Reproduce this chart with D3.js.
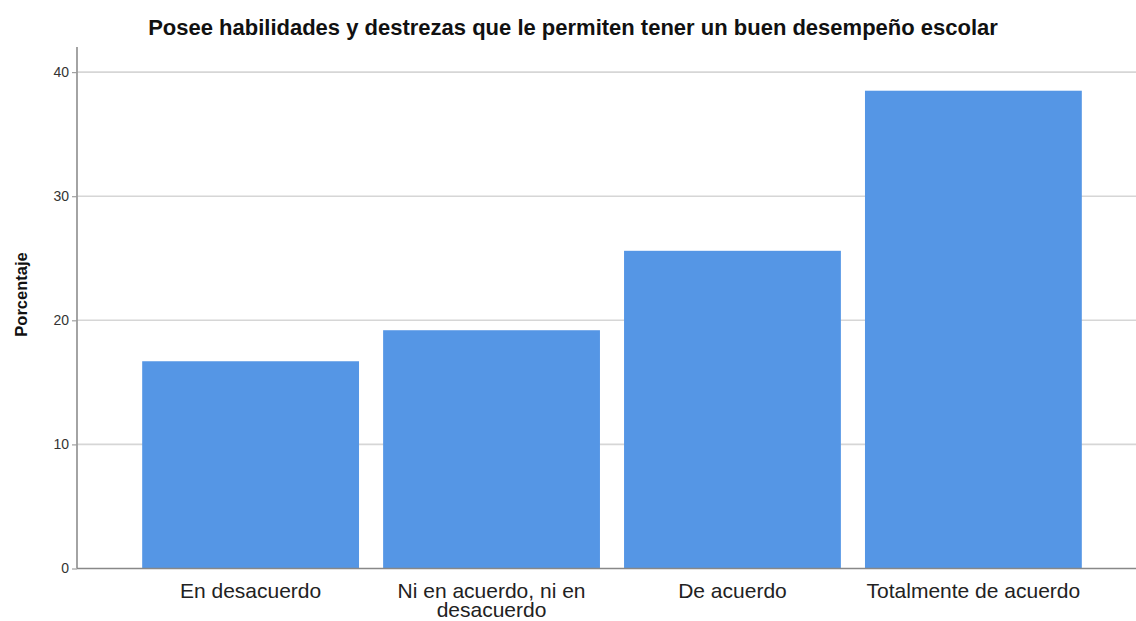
<!DOCTYPE html>
<html>
<head>
<meta charset="utf-8">
<script src="https://cdn.jsdelivr.net/npm/d3@7"></script>
<style>
  html, body { margin: 0; padding: 0; background: #fff; }
  svg { display: block; font-family: Arial, "Liberation Sans", sans-serif; }
</style>
</head>
<body>
<svg id="chart" width="1136" height="621"></svg>
<script>
const title = "Posee habilidades y destrezas que le permiten tener un buen desempeño escolar";
const categories = ["En desacuerdo", "Ni en acuerdo, ni en desacuerdo", "De acuerdo", "Totalmente de acuerdo"];
const categoryLines = [["En desacuerdo"], ["Ni en acuerdo, ni en", "desacuerdo"], ["De acuerdo"], ["Totalmente de acuerdo"]];
const percentages = [16.7, 19.2, 25.6, 38.5];
const yTicks = [0, 10, 20, 30, 40];
const yLabel = "Porcentaje";

const svg = d3.select("#chart");
const axisX = 77, plotRight = 1136, plotTop = 47, plotBottom = 568.5;

const y = d3.scaleLinear().domain([0, 40]).range([plotBottom, plotBottom - 4 * 124.1]);
const x = d3.scaleBand().domain(categories).range([94, 1130]).paddingInner(0.1).paddingOuter(0.2);

// gridlines
svg.append("g").selectAll("line").data(yTicks.filter(d => d > 0)).join("line")
  .attr("x1", axisX).attr("x2", plotRight)
  .attr("y1", d => y(d)).attr("y2", d => y(d))
  .attr("stroke", "#d6d6d6").attr("stroke-width", 1.6);

// bars
svg.append("g").selectAll("rect").data(percentages).join("rect")
  .attr("x", (d, i) => x(categories[i]))
  .attr("width", x.bandwidth())
  .attr("y", d => y(d))
  .attr("height", d => y(0) - y(d))
  .attr("fill", "#5596e5");

// y axis
const yAxis = d3.axisLeft(y).tickValues(yTicks).tickSize(5).tickPadding(3).tickFormat(d3.format("d"));
const gy = svg.append("g").attr("transform", `translate(${axisX},0)`).call(yAxis);
gy.select(".domain").remove();
gy.selectAll(".tick line").attr("stroke", "#a0a0a0").attr("stroke-width", 1.2);
gy.selectAll(".tick text").attr("font-size", 14).attr("fill", "#333").attr("font-family", "Arial, 'Liberation Sans', sans-serif");
svg.append("line").attr("x1", axisX).attr("x2", axisX).attr("y1", plotTop).attr("y2", plotBottom)
  .attr("stroke", "#9a9a9a").attr("stroke-width", 1.8);

// x axis baseline
svg.append("line").attr("x1", axisX).attr("x2", plotRight).attr("y1", plotBottom).attr("y2", plotBottom)
  .attr("stroke", "#888").attr("stroke-width", 1.4);

// x labels
const xl = svg.append("g").selectAll("text").data(categories).join("text")
  .attr("x", d => x(d) + x.bandwidth() / 2)
  .attr("y", 597.5)
  .attr("text-anchor", "middle")
  .attr("font-size", 21)
  .attr("fill", "#222");
xl.each(function(d, i) {
  const t = d3.select(this);
  categoryLines[i].forEach((line, j) => {
    t.append("tspan").attr("x", x(d) + x.bandwidth() / 2).attr("dy", j === 0 ? 0 : 19).text(line);
  });
});

// title
svg.append("text").attr("x", 573).attr("y", 35.3).attr("text-anchor", "middle")
  .attr("font-size", 22).attr("font-weight", "bold").attr("fill", "#111").text(title);

// y label
svg.append("text").attr("transform", "translate(27,294.5) rotate(-90)")
  .attr("text-anchor", "middle").attr("font-size", 16.5).attr("font-weight", "bold").attr("fill", "#111")
  .text(yLabel);
</script>
</body>
</html>
